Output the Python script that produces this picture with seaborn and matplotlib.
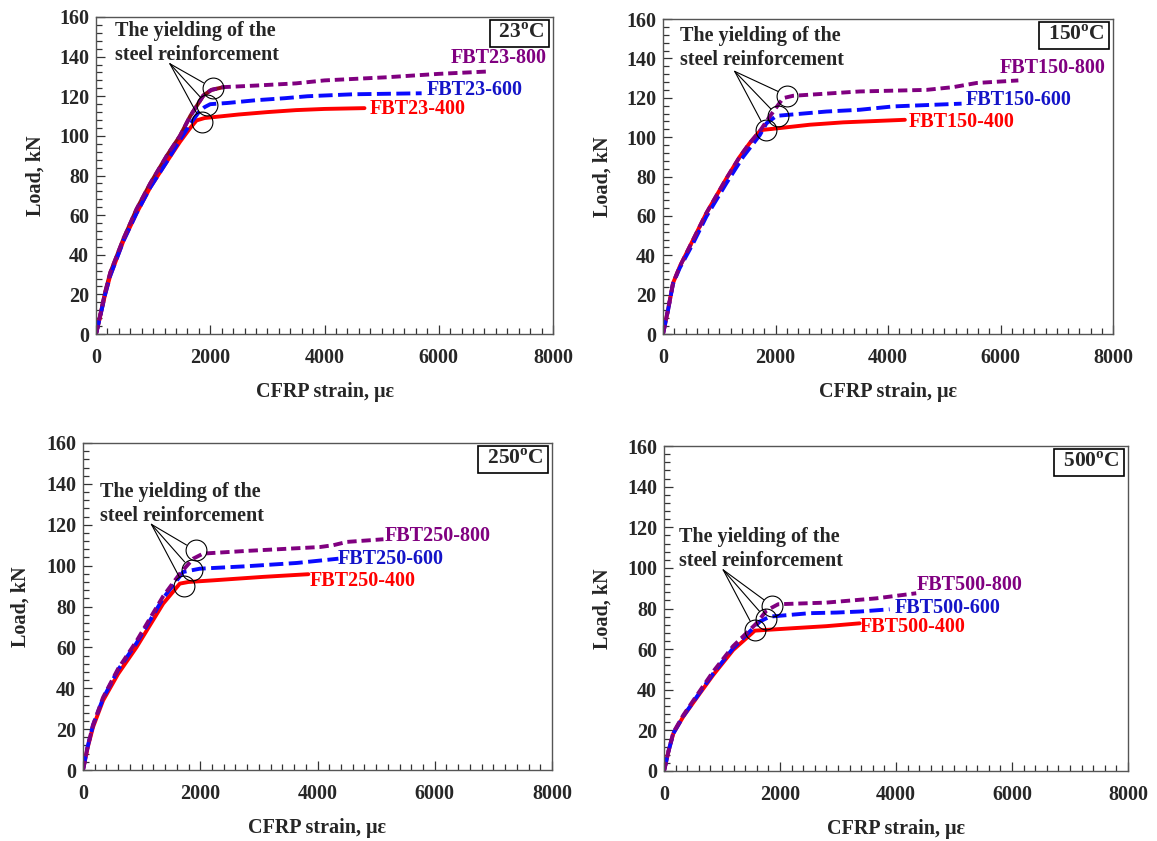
import numpy as np
import pandas as pd
import seaborn as sns
import matplotlib
matplotlib.use("Agg")
import matplotlib.pyplot as plt
from matplotlib.ticker import AutoMinorLocator

# ---------------- data ----------------
x_ticks = [0, 2000, 4000, 6000, 8000]
y_ticks = [0, 20, 40, 60, 80, 100, 120, 140, 160]
temps = ["23", "150", "250", "500"]

# 23 C
s23_400 = [0, 70, 160, 250, 480, 710, 950, 1240, 1470, 1650, 1760, 1900, 2100, 2500, 3000, 3500, 4000, 4700]
l23_400 = [0, 8.5, 20, 29.5, 47, 61, 74, 87, 97, 104, 107.8, 109, 109.6, 110.8, 112, 113, 113.6, 114]
s23_600 = [0, 70, 160, 250, 480, 710, 950, 1240, 1470, 1650, 1800, 1900, 2000, 2300, 2800, 3300, 3700, 4500, 5700]
l23_600 = [0, 8.5, 20, 29.5, 47, 61, 74, 87, 98, 106, 112, 114.5, 116, 116.6, 118, 119, 120, 121, 121.5]
s23_800 = [0, 70, 160, 250, 480, 710, 950, 1240, 1470, 1650, 1880, 2020, 2230, 2800, 3500, 4000, 5100, 6000, 6860]
l23_800 = [0, 9, 21, 31, 48, 63, 76, 90, 100, 110, 120.4, 123.2, 124.6, 125.4, 126.5, 128, 129.6, 131.3, 132.5]

# 150 C
s150_400 = [0, 89, 178, 297, 534, 771, 1127, 1364, 1542, 1720, 1779, 2076, 2610, 3203, 4300]
l150_400 = [0, 12.2, 25.8, 34.2, 47.8, 61.4, 79, 90, 97, 103, 103.7, 104.6, 106.3, 107.5, 108.8]
s150_600 = [0, 89, 178, 297, 534, 771, 1127, 1424, 1720, 1839, 2017, 2906, 3499, 4093, 5308]
l150_600 = [0, 12, 25.5, 33.5, 46, 59.7, 76.6, 90, 101, 107, 110.8, 113, 113.9, 115.6, 117]
s150_800 = [0, 89, 178, 297, 534, 771, 1127, 1364, 1542, 1720, 1898, 2135, 2313, 3499, 4685, 5160, 5575, 6317]
l150_800 = [0, 12.2, 25.8, 34.2, 47.8, 61.4, 79, 90, 97, 103, 110.5, 119.8, 121, 123.2, 124, 125.4, 127.5, 128.8]

# 250 C
s250_400 = [0, 80, 171, 342, 598, 911, 1367, 1651, 1800, 2221, 3075, 3844]
l250_400 = [0, 11, 21, 34, 47, 60, 81.4, 91.2, 92, 92.8, 94.5, 95.8]
s250_600 = [0, 80, 171, 342, 598, 911, 1367, 1708, 1993, 2790, 3645, 4357]
l250_600 = [0, 11.5, 22, 35, 49, 62, 84, 96.9, 98.5, 99.7, 101.3, 103.4]
s250_800 = [0, 80, 171, 342, 598, 911, 1367, 1651, 1879, 2050, 2790, 4043, 4271, 4499, 5125]
l250_800 = [0, 11.5, 22, 35.5, 49.5, 63, 85, 96, 103.4, 105.9, 107.2, 109.1, 110, 111.6, 112.9]

# 500 C
s500_400 = [0, 80, 161, 333, 620, 849, 1193, 1566, 2226, 2800, 3373]
l500_400 = [0, 10, 18.5, 26.8, 38.3, 47.3, 59.6, 69.1, 70.3, 71.3, 72.7]
s500_600 = [0, 80, 161, 333, 620, 849, 1193, 1652, 1824, 2513, 2972, 3373, 3890]
l500_600 = [0, 10, 18.5, 27, 38.8, 48, 60.5, 73.6, 76, 77.7, 78, 78.5, 79.6]
s500_800 = [0, 80, 161, 333, 620, 849, 1193, 1595, 1767, 1968, 2800, 3660, 4349]
l500_800 = [0, 10, 19, 27.5, 39.5, 49, 61.5, 72.7, 79, 82.1, 82.9, 85, 87.5]

# ---------------- style ----------------
sns.set_style("ticks")
plt.rcParams["font.family"] = ["Liberation Serif", "DejaVu Serif"]
plt.rcParams["font.weight"] = "bold"
plt.rcParams["mathtext.fontset"] = "custom"
plt.rcParams["mathtext.rm"] = "Liberation Serif:bold"
plt.rcParams["mathtext.bf"] = "Liberation Serif:bold"

RED = "#ff0000"
BLUE = "#0a0aff"
PURPLE = "#800080"
BLUE_TXT = "#1414c8"

fig = plt.figure(figsize=(11.57, 8.41), dpi=100)

panels = [
    dict(rect=[96/1157, 1-334/841, 457/1157, 317/841], t="23",
         data=[(s23_400, l23_400), (s23_600, l23_600), (s23_800, l23_800)],
         labels=[(4797, 113.6), (5794, 123.2), (6214, 139.3)],
         text=(333, 158), org=(1294, 136.4),
         circ=[(1848, 106.9), (1948, 115.7), (2041, 124.2)], ylabx=35),
    dict(rect=[663/1157, 1-334/841, 450/1157, 315/841], t="150",
         data=[(s150_400, l150_400), (s150_600, l150_600), (s150_800, l150_800)],
         labels=[(4373, 107.7), (5385, 118.9), (5979, 135)],
         text=(302, 156.5), org=(1275, 133.4),
         circ=[(1827, 103.7), (2046, 110.5), (2212, 121)], ylabx=602),
    dict(rect=[83/1157, 1-770/841, 469/1157, 327/841], t="250",
         data=[(s250_400, l250_400), (s250_600, l250_600), (s250_800, l250_800)],
         labels=[(3872, 92.5), (4350, 103.2), (5151, 114.5)],
         text=(290, 141), org=(1167, 120.2),
         circ=[(1725, 90), (1851, 98), (1919, 107.5)], ylabx=20),
    dict(rect=[664/1157, 1-771/841, 464/1157, 325/841], t="500",
         data=[(s500_400, l500_400), (s500_600, l500_600), (s500_800, l500_800)],
         labels=[(3379, 70.9), (3983, 80.2), (4362, 91.6)],
         text=(259, 120.2), org=(1021, 99),
         circ=[(1566, 69.5), (1767, 74.7), (1865, 81.3)], ylabx=602),
]

colors = [RED, BLUE, PURPLE]
txt_colors = [RED, BLUE_TXT, PURPLE]
dash_specs = [None, (3.6, 1.4), (2.4, 1.25)]
FS = 14.5
LW = 2.8

for p in panels:
    ax = fig.add_axes(p["rect"])
    t = p["t"]
    names = [f"FBT{t}-400", f"FBT{t}-600", f"FBT{t}-800"]
    # maroon underlay of the rising branch in the 23C panel
    if t == "23":
        s8, l8 = p["data"][2]
        n = sum(1 for v in s8 if v <= 2300)
        sns.lineplot(x=s8[:n], y=l8[:n], ax=ax, color="#8b0a1e", lw=LW,
                     sort=False, estimator=None)
    for (s, l), c, d in zip(p["data"], colors, dash_specs):
        sns.lineplot(x=s, y=l, ax=ax, color=c, lw=LW, sort=False, estimator=None)
        line = ax.lines[-1]
        if d is not None:
            line.set_dashes(d)
            line.set_dash_capstyle("butt")
    for (lx, ly), name, tc in zip(p["labels"], names, txt_colors):
        ax.text(lx, ly, name, color=tc, fontsize=FS, fontweight="bold",
                ha="left", va="center")
    # annotation
    ax.text(p["text"][0], p["text"][1], "The yielding of the\nsteel reinforcement",
            fontsize=FS, fontweight="bold", ha="left", va="top", linespacing=1.3)
    for cx, cy in p["circ"]:
        ax.plot([cx], [cy], marker="o", ms=15, mfc="none", mec="black", mew=0.8)
        ax.annotate("", xy=(cx, cy), xytext=p["org"],
                    arrowprops=dict(arrowstyle="-", lw=0.8, color="black",
                                    shrinkA=0, shrinkB=7.5))
    # temperature box (top-right corner)
    ax.annotate(f" {t}$^{{\\mathrm{{o}}}}$C ", xy=(1, 1), xycoords="axes fraction",
                xytext=(-5.0, -4.6), textcoords="offset points",
                fontsize=15.5, fontweight="bold", ha="right", va="top",
                bbox=dict(boxstyle="square,pad=0.15", fc="white", ec="black", lw=1.2))

    ax.set_xlim(0, 8000)
    ax.set_ylim(0, 160)
    ax.set_xticks(x_ticks)
    ax.set_yticks(y_ticks)
    ax.xaxis.set_minor_locator(AutoMinorLocator(10))
    ax.yaxis.set_minor_locator(AutoMinorLocator(5))
    ax.tick_params(which="both", direction="in", top=False, right=False,
                   color="#333333", width=0.9)
    ax.tick_params(which="major", length=6.5, labelsize=FS)
    ax.tick_params(which="minor", length=4.5)
    ax.tick_params(axis="x", which="major", pad=10)
    ax.tick_params(axis="y", which="major", pad=5)
    for lab in ax.get_xticklabels() + ax.get_yticklabels():
        lab.set_fontweight("bold")
    for sp in ax.spines.values():
        sp.set_color("#555555")
        sp.set_linewidth(1.0)
        sp.set_visible(True)
    ax.set_xlabel("CFRP strain, με", fontsize=FS, fontweight="bold", labelpad=10)
    ax.set_ylabel("Load, kN", fontsize=FS, fontweight="bold")
    bb = ax.get_position()
    ax.yaxis.set_label_coords(((p["ylabx"] + 11) / 1157 - bb.x0) / bb.width, 0.5)

fig.savefig("out.png", dpi=100)
